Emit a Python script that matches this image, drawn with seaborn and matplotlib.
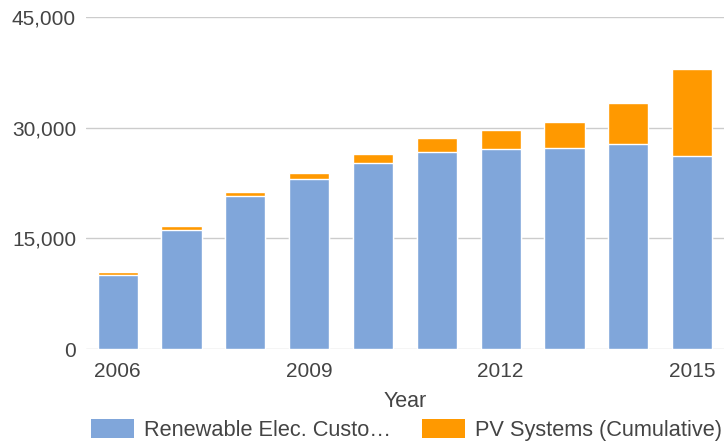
import numpy as np
import pandas as pd
import matplotlib
matplotlib.use("Agg")
import matplotlib.pyplot as plt
from matplotlib.patches import Patch
import seaborn as sns

# values
years = ["2006", "2007", "2008", "2009", "2010", "2011", "2012", "2013", "2014", "2015"]
renewable = [10000, 16100, 20700, 23100, 25200, 26700, 27050, 27300, 27800, 26150]
pv_systems = [400, 600, 600, 800, 1200, 1950, 2650, 3450, 5600, 11850]
shown_years = ["2006", "2009", "2012", "2015"]
legend_labels = ["Renewable Elec. Custo\u2026", "PV Systems (Cumulative)"]

BLUE = "#80a6da"
ORANGE = "#ff9900"
TEXT = "#444444"

sns.set_theme(style="white")
plt.rcParams["font.family"] = ["Liberation Sans", "DejaVu Sans"]

df = pd.DataFrame({"year": years, "renewable": renewable, "pv": pv_systems})
df["total"] = df["renewable"] + df["pv"]

fig = plt.figure(figsize=(7.27, 4.45), dpi=100)
ax = fig.add_axes([0.118, 0.2157, 0.878, 0.7461])

# stacked: orange total underneath, blue renewable drawn over it
sns.barplot(data=df, x="year", y="total", color=ORANGE, width=0.63,
            edgecolor="white", linewidth=1, saturation=1, ax=ax, zorder=2)
sns.barplot(data=df, x="year", y="renewable", color=BLUE, width=0.63,
            edgecolor="white", linewidth=1, saturation=1, ax=ax, zorder=3)

ax.set_ylim(0, 45000)
ax.set_xlim(-0.5, len(years) - 0.5)
ax.set_yticks([0, 15000, 30000, 45000])
ax.set_yticklabels([f"{v:,}" for v in [0, 15000, 30000, 45000]])
ax.set_xticks([years.index(y) for y in shown_years])
ax.set_xticklabels(shown_years)
ax.yaxis.grid(True, color="#cccccc", linewidth=1)
ax.set_axisbelow(True)
for s in ax.spines.values():
    s.set_visible(False)
ax.tick_params(axis="both", length=0, labelsize=15, colors=TEXT)
ax.tick_params(axis="y", pad=7)
ax.tick_params(axis="x", pad=9.5)
ax.set_xlabel("Year", fontsize=15.5, color=TEXT, labelpad=7)
ax.set_ylabel("")

handles = [Patch(facecolor=BLUE, edgecolor="none"), Patch(facecolor=ORANGE, edgecolor="none")]
fig.legend(handles, legend_labels, loc="center left", bbox_to_anchor=(91 / 727, 15 / 445),
           ncol=2, frameon=False, fontsize=15.7, labelcolor=TEXT, borderpad=0,
           borderaxespad=0, handlelength=1.97, handleheight=1.0, handletextpad=0.46,
           columnspacing=1.42)

fig.savefig("out.png", dpi=100)
